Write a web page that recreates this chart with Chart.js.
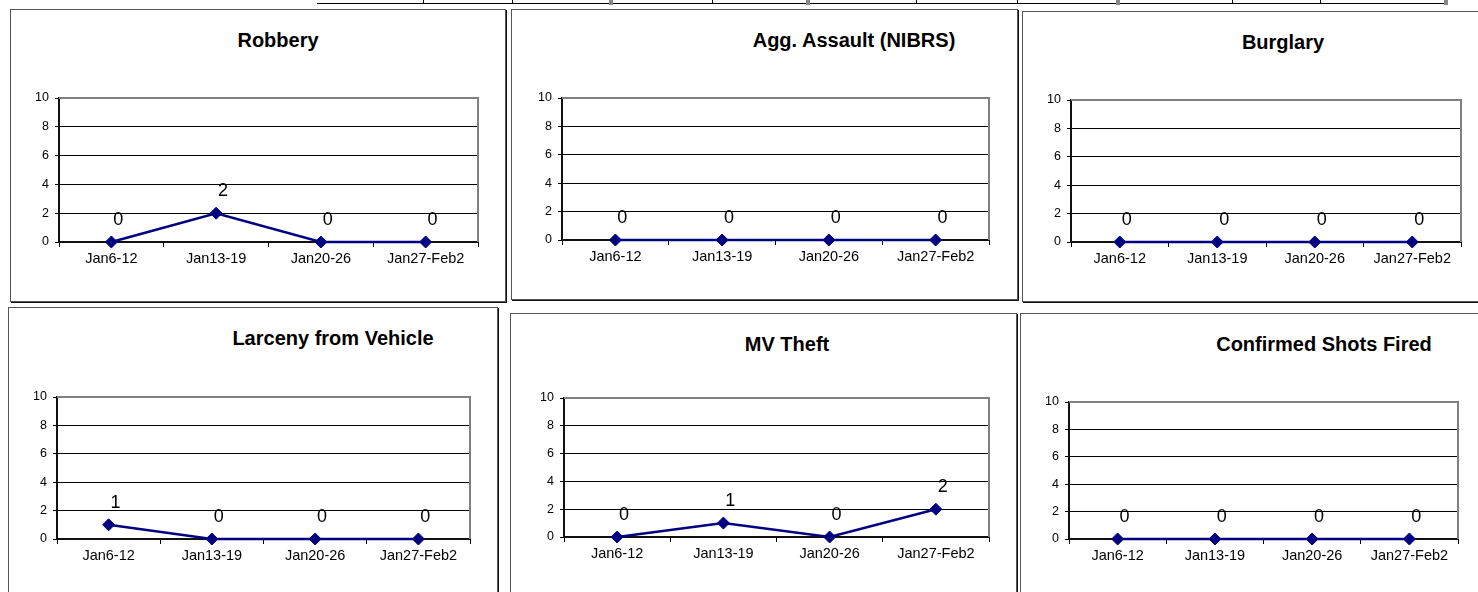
<!DOCTYPE html>
<html>
<head>
<meta charset="utf-8">
<title>Resumen semanal</title>
<script src="https://cdn.jsdelivr.net/npm/chart.js@4"></script>
<style>
    body { margin: 0; width: 1478px; height: 592px; overflow: hidden; position: relative; background: #fff;
           font-family: "Liberation Sans", Arial, sans-serif; }
    .caja { position: absolute; box-sizing: border-box; border: 1px solid #555; box-shadow: 1px 1px 0 #111; background: #fff; }
    .titulo { position: absolute; font-weight: bold; font-size: 20px; line-height: 20px; white-space: nowrap;
              transform: translateX(-50%); color: #000; }
    canvas { position: absolute; }
    .linea { position: absolute; background: #000; }
    .gris { position: absolute; background: #888; }
</style>
</head>
<body>

<!-- Restos de la tabla de arriba -->
<div class="linea" style="left:317px; top:3px; width:1130px; height:1px;"></div>
<div id="separadores"></div>

<div id="paneles"></div>

<script>
// Datos de los gráficos
const semanas = ['Jan6-12', 'Jan13-19', 'Jan20-26', 'Jan27-Feb2'];
const ticksY = [0, 2, 4, 6, 8, 10];

const robbery = [0, 2, 0, 0];
const aggAssault = [0, 0, 0, 0];
const burglary = [0, 0, 0, 0];
const larcenyVehicle = [1, 0, 0, 0];
const mvTheft = [0, 1, 0, 2];
const shotsFired = [0, 0, 0, 0];

// Posición de cada panel en la página (caja, área del gráfico y título)
const paneles = [
    { titulo: 'Robbery',               datos: robbery,        caja: [10, 9, 506, 302],     area: [59, 98, 478, 242],    tx: 278,  ty: 30 },
    { titulo: 'Agg. Assault (NIBRS)',  datos: aggAssault,     caja: [511, 9, 1018, 300],   area: [562, 98, 989, 240],   tx: 854,  ty: 30 },
    { titulo: 'Burglary',              datos: burglary,       caja: [1022, 11, 1490, 302], area: [1071, 100, 1461, 242], tx: 1283, ty: 32 },
    { titulo: 'Larceny from Vehicle',  datos: larcenyVehicle, caja: [8, 307, 498, 610],    area: [57, 397, 470, 539],   tx: 333,  ty: 328 },
    { titulo: 'MV Theft',              datos: mvTheft,        caja: [510, 313, 1017, 610], area: [564, 398, 989, 537],  tx: 787,  ty: 334 },
    { titulo: 'Confirmed Shots Fired', datos: shotsFired,     caja: [1020, 313, 1490, 610], area: [1069, 402, 1458, 539], tx: 1324, ty: 334 }
];

const ANCHO_EJE_Y = 30;   // ancho fijo del eje Y
const ALTO_EJE_X = 30;    // alto fijo del eje X
const fuente = '"Liberation Sans", Arial, sans-serif';

// Separadores verticales de la tabla superior
const posSeparadores = [423, 512, 712, 916, 1017, 1232, 1320];
const posGrises = [609, 806, 1116, 1444];

document.addEventListener("DOMContentLoaded", function () {
    dibujarTabla();
    paneles.forEach(crearPanel);
});

function dibujarTabla() {
    const cont = document.getElementById('separadores');
    posSeparadores.forEach(x => {
        const d = document.createElement('div');
        d.className = 'linea';
        d.style.cssText = `left:${x}px; top:0; width:1px; height:4px;`;
        cont.appendChild(d);
    });
    posGrises.forEach(x => {
        const d = document.createElement('div');
        d.className = 'gris';
        d.style.cssText = `left:${x}px; top:0; width:4px; height:5px;`;
        cont.appendChild(d);
    });
}

// Plugin: marco gris arriba y a la derecha del área del gráfico
const pluginMarco = {
    id: 'marco',
    beforeDatasetsDraw(chart) {
        const { left, top, right, bottom } = chart.chartArea;
        const ctx = chart.ctx;
        ctx.save();
        ctx.strokeStyle = '#808080';
        ctx.lineWidth = 2;
        ctx.beginPath();
        ctx.moveTo(left, top);
        ctx.lineTo(right, top);
        ctx.lineTo(right, bottom);
        ctx.stroke();
        ctx.restore();
    }
};

// Plugin: etiquetas de valor sobre cada punto
const pluginEtiquetas = {
    id: 'etiquetas',
    afterDatasetsDraw(chart) {
        const ctx = chart.ctx;
        const meta = chart.getDatasetMeta(0);
        const valores = chart.data.datasets[0].data;
        ctx.save();
        ctx.font = '18px ' + fuente;
        ctx.fillStyle = '#000';
        ctx.textAlign = 'center';
        ctx.textBaseline = 'alphabetic';
        meta.data.forEach((p, i) => {
            ctx.fillText(String(valores[i]), p.x + 7, p.y - 17);
        });
        ctx.restore();
    }
};

function crearPanel(panel) {
    const cont = document.getElementById('paneles');
    const [bx1, by1, bx2, by2] = panel.caja;
    const [ax1, ay1, ax2, ay2] = panel.area;

    // Caja con borde
    const caja = document.createElement('div');
    caja.className = 'caja';
    caja.style.cssText = `left:${bx1}px; top:${by1}px; width:${bx2 - bx1}px; height:${by2 - by1}px;`;
    cont.appendChild(caja);

    // Título como texto normal
    const titulo = document.createElement('div');
    titulo.className = 'titulo';
    titulo.textContent = panel.titulo;
    titulo.style.left = panel.tx + 'px';
    titulo.style.top = panel.ty + 'px';
    cont.appendChild(titulo);

    // Lienzo del gráfico
    const cw = bx2 - bx1, ch = by2 - by1;
    const lienzo = document.createElement('canvas');
    lienzo.width = cw;
    lienzo.height = ch;
    lienzo.style.cssText = `left:${bx1}px; top:${by1}px; width:${cw}px; height:${ch}px;`;
    cont.appendChild(lienzo);

    new Chart(lienzo.getContext('2d'), {
        type: 'line',
        data: {
            labels: semanas,
            datasets: [{
                data: panel.datos,
                borderColor: '#000080',
                borderWidth: 2.5,
                pointStyle: 'rectRot',
                pointRadius: 6,
                pointBackgroundColor: '#000080',
                pointBorderColor: '#000080',
                pointBorderWidth: 1,
                tension: 0,
                clip: false
            }]
        },
        options: {
            responsive: false,
            animation: false,
            devicePixelRatio: 1,
            layout: {
                padding: {
                    left: ax1 - bx1 - ANCHO_EJE_Y,
                    top: ay1 - by1,
                    right: bx2 - ax2,
                    bottom: by2 - ay2 - ALTO_EJE_X
                }
            },
            plugins: {
                legend: { display: false },
                title: { display: false },
                tooltip: { enabled: false }
            },
            scales: {
                x: {
                    offset: true,
                    afterFit(scale) { scale.height = ALTO_EJE_X; },
                    grid: { offset: true, drawOnChartArea: false, color: '#000', tickLength: 5 },
                    border: { color: '#111', width: 2 },
                    ticks: { color: '#000', padding: 3, maxRotation: 0, font: { family: fuente, size: 14.5 } }
                },
                y: {
                    min: ticksY[0],
                    max: ticksY[ticksY.length - 1],
                    afterFit(scale) { scale.width = ANCHO_EJE_Y; },
                    afterBuildTicks(scale) { scale.ticks = ticksY.map(v => ({ value: v })); },
                    grid: { color: '#000', lineWidth: 1, tickLength: 4 },
                    border: { color: '#111', width: 2 },
                    ticks: { color: '#000', padding: 6, font: { family: fuente, size: 12.5 } }
                }
            }
        },
        plugins: [pluginMarco, pluginEtiquetas]
    });
}
</script>
</body>
</html>
